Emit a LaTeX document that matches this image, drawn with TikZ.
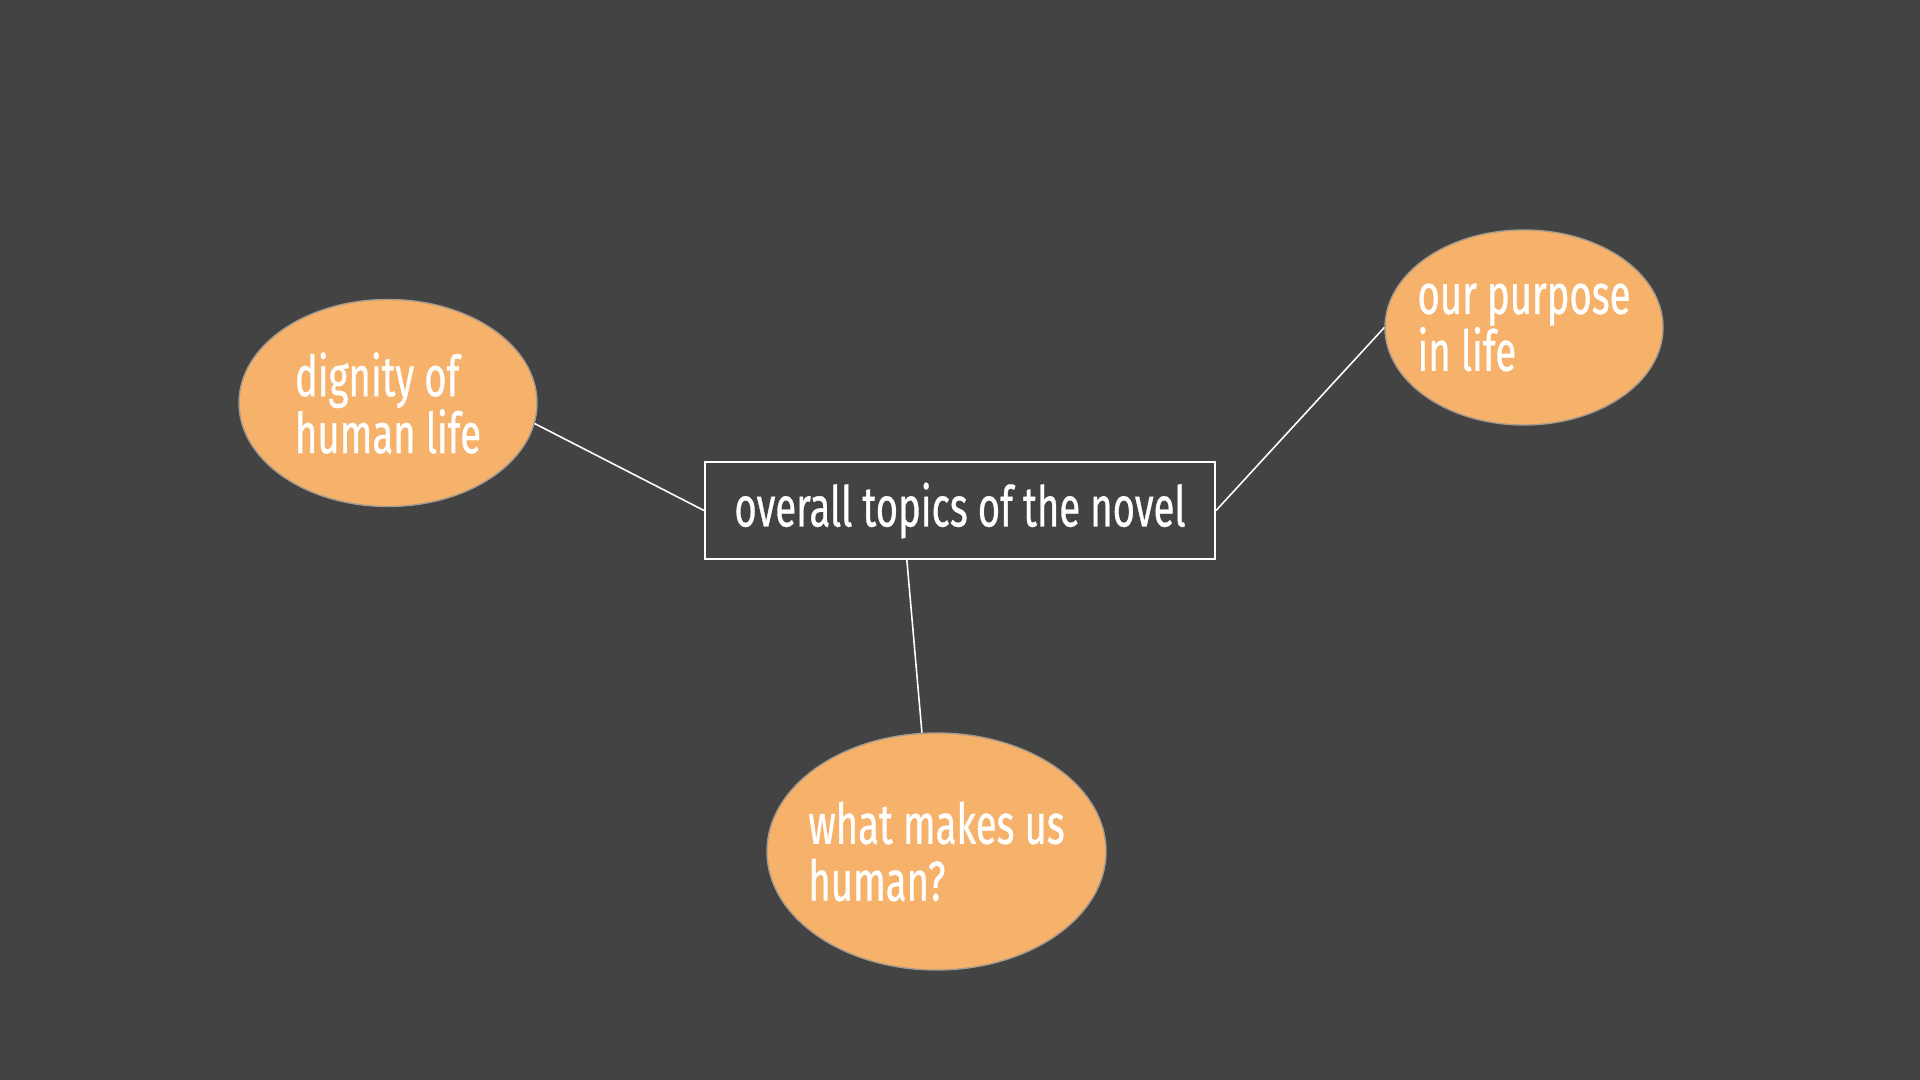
\documentclass[tikz,border=0pt]{standalone}
\usepackage{xcolor}
\usepackage{fontspec}
\setmainfont{Fira Sans}[FakeStretch=0.68, FakeBold=0.6]
\usepackage{tikz}
\usetikzlibrary{shapes.geometric}

\definecolor{slidebg}{HTML}{434343}
\definecolor{topicorange}{HTML}{F6B26B}
\definecolor{topicrim}{HTML}{A89B8C}

\begin{document}
\begin{tikzpicture}[
    topic/.style={draw=topicrim, line width=0.4pt, fill=topicorange, ellipse, inner sep=-0.4cm,
        text=white, align=left, font=\fontsize{16}{16.2}\selectfont},
    mainbox/.style={draw=white, line width=0.6pt, rectangle, minimum width=5.1cm,
        minimum height=0.97cm, text=white, font=\fontsize{16}{16.2}\selectfont},
    link/.style={draw=white, line width=0.45pt}
]
    \fill[slidebg] (0, 0) rectangle (19.2, 10.8);
    \useasboundingbox (0, 0) rectangle (19.2, 10.8);

    \node[mainbox] at (9.60, 5.695) (main) {overall topics of the novel};
    \node[topic, minimum width=2.98cm, minimum height=2.07cm] at (3.88, 6.77) (dignity) {dignity of\\human life};
    \node[topic, minimum width=2.78cm, minimum height=1.95cm] at (15.24, 7.525) (purpose) {our purpose\\in life};
    \node[topic, minimum width=3.39cm, minimum height=2.37cm] at (9.365, 2.285) (human) {what makes us\\human?};

    \draw[link] (main.west) -- (dignity.-8);
    \draw[link] (main.east) -- (purpose.west);
    \draw[link] (main.-137) -- (human.97);
\end{tikzpicture}
\end{document}
